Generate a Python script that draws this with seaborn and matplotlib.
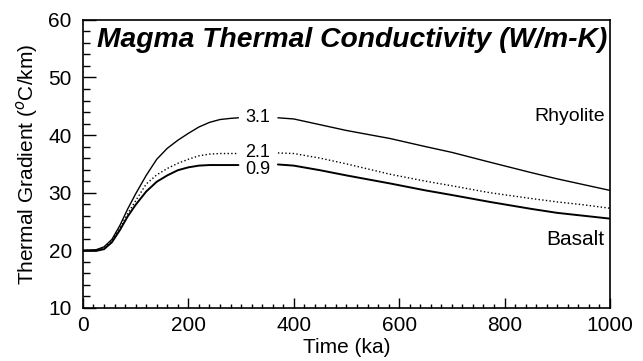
import numpy as np
import pandas as pd
import matplotlib
matplotlib.use("Agg")
import matplotlib.pyplot as plt
from matplotlib.ticker import MultipleLocator
import seaborn as sns

# ---- data ----
time_rise = [0, 25, 40, 55, 70, 85, 100, 120, 140, 160, 180, 200, 220, 240, 260, 280, 295]
k31_rise = [20.0, 20.1, 20.6, 21.9, 24.3, 27.2, 29.8, 33.0, 35.8, 37.7, 39.1, 40.3, 41.4, 42.2, 42.7, 42.9, 43.0]
k21_rise = [20.0, 20.0, 20.4, 21.6, 23.8, 26.4, 28.6, 31.5, 33.1, 34.2, 35.1, 35.8, 36.4, 36.7, 36.8, 36.8, 36.8]
k09_rise = [19.9, 19.9, 20.2, 21.4, 23.5, 25.9, 27.9, 30.2, 31.9, 33.0, 33.9, 34.4, 34.7, 34.8, 34.8, 34.8, 34.8]

time_decay = [370, 400, 450, 500, 583, 650, 700, 772, 850, 900, 950, 1000]
k31_decay = [43.0, 42.8, 41.8, 40.8, 39.4, 38.0, 37.0, 35.3, 33.5, 32.4, 31.4, 30.4]
k21_decay = [36.9, 36.8, 36.0, 35.0, 33.2, 32.0, 31.2, 30.0, 29.0, 28.4, 27.9, 27.3]
k09_decay = [34.9, 34.7, 33.9, 33.0, 31.6, 30.4, 29.6, 28.4, 27.2, 26.5, 26.0, 25.5]

curve_labels = ["3.1", "2.1", "0.9"]
label_pos_x = [332, 332, 332]
label_pos_y = [43.0, 36.9, 34.0]

x_ticks = [0, 200, 400, 600, 800, 1000]
y_ticks = [10, 20, 30, 40, 50, 60]

# ---- build table ----
rows = []
series = {"3.1": (k31_rise, k31_decay), "2.1": (k21_rise, k21_decay), "0.9": (k09_rise, k09_decay)}
for lab, (rise, decay) in series.items():
    for t, v in zip(time_rise, rise):
        rows.append((lab, "rise", t, v))
    for t, v in zip(time_decay, decay):
        rows.append((lab, "decay", t, v))
df = pd.DataFrame(rows, columns=["k", "segment", "time", "gradient"])

sns.set_theme(style="ticks")
plt.rcParams["font.family"] = ["Liberation Sans", "DejaVu Sans"]
plt.rcParams["text.color"] = "black"
plt.rcParams["axes.labelcolor"] = "black"
plt.rcParams["xtick.color"] = "black"
plt.rcParams["ytick.color"] = "black"

fig = plt.figure(figsize=(6.43, 3.61), dpi=100)
ax = fig.add_axes([0.129, 0.147, 0.8196, 0.798])

styles = {"3.1": dict(lw=1.0, ls="-"), "2.1": dict(lw=1.0, ls=":"), "0.9": dict(lw=1.4, ls="-")}
for lab in curve_labels:
    sub = df[df["k"] == lab]
    sns.lineplot(data=sub, x="time", y="gradient", units="segment", estimator=None,
                 color="black", ax=ax, sort=False, **styles[lab])

for lab, lx, ly in zip(curve_labels, label_pos_x, label_pos_y):
    ax.text(lx, ly, lab, ha="center", va="center", fontsize=13)

ax.text(27, 56.5, "Magma Thermal Conductivity (W/m-K)", fontsize=20.3, fontweight="bold",
        fontstyle="italic", ha="left", va="center")
ax.text(990, 43.2, "Rhyolite", fontsize=14, ha="right", va="center")
ax.text(990, 21.8, "Basalt", fontsize=15, ha="right", va="center")

ax.set_xlim(0, 1000)
ax.set_ylim(10, 60)
ax.set_xticks(x_ticks)
ax.set_yticks(y_ticks)
ax.xaxis.set_minor_locator(MultipleLocator(20))
ax.yaxis.set_minor_locator(MultipleLocator(2))
ax.tick_params(axis="both", which="both", direction="in", color="black", width=1.0,
               top=False, right=False)
ax.tick_params(axis="y", which="major", length=9, pad=8, labelsize=15)
ax.tick_params(axis="y", which="minor", length=5)
ax.tick_params(axis="x", which="major", length=7, pad=6, labelsize=15)
ax.tick_params(axis="x", which="minor", length=3)
for s in ax.spines.values():
    s.set_visible(True)
    s.set_color("black")
    s.set_linewidth(1.2)

ax.set_xlabel("Time (ka)", fontsize=15, labelpad=2)
ax.set_ylabel("Thermal Gradient ($^{o}$C/km)", fontsize=15, labelpad=6)
ax.grid(False)

fig.savefig("out.png", dpi=100, facecolor="white")
